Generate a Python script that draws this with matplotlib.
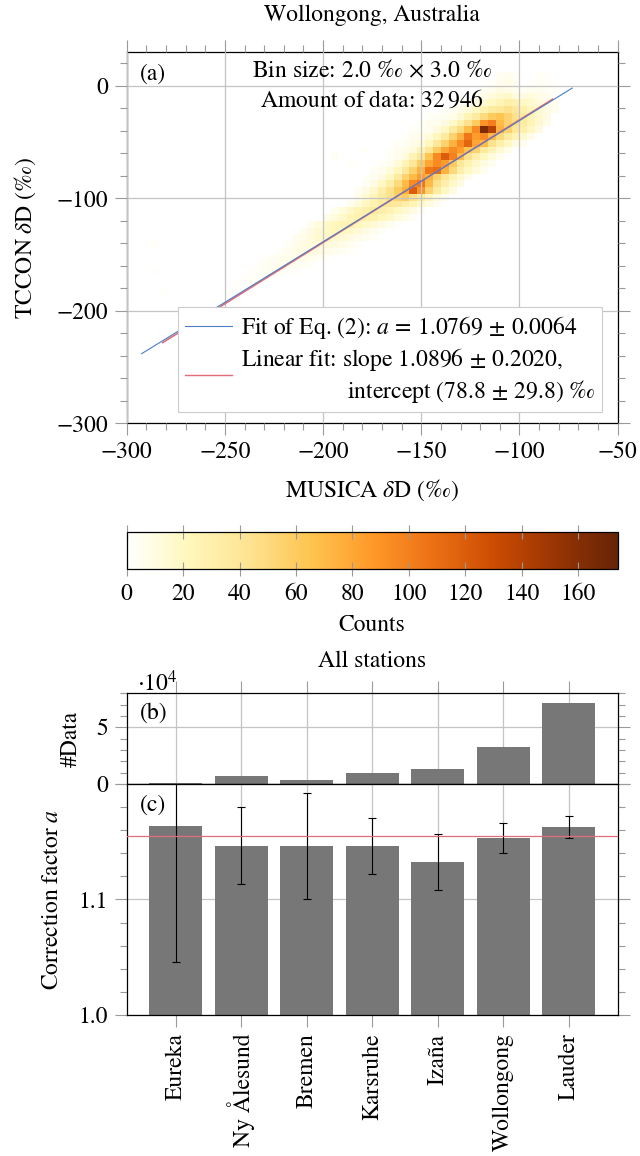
import matplotlib

matplotlib.use("Agg")
import matplotlib.pyplot as plt
import numpy as np
from matplotlib.colors import LinearSegmentedColormap
from matplotlib.ticker import MultipleLocator

plt.rcParams["font.family"] = ["STIXGeneral", "DejaVu Serif"]
plt.rcParams["mathtext.fontset"] = "stix"
plt.rcParams["font.size"] = 17

# ---- panel (a): Wollongong 2-D histogram (4 permil x 6 permil cells) ----
# (y centre, x centre of first cell, counts of consecutive cells along x)
heat_rows = [
    (9, -110, [4, 6, 3, 0, 0, 3, 2]),
    (3, -114, [3, 6, 8, 5, 0, 2, 4, 3, 2]),
    (-3, -118, [4, 6, 10, 8, 6, 4, 5, 6, 4, 3]),
    (-9, -122, [5, 8, 12, 15, 18, 12, 10, 12, 8, 6, 4]),
    (-15, -130, [3, 6, 10, 15, 20, 25, 30, 28, 20, 15, 12, 8, 5]),
    (-21, -138, [3, 4, 8, 12, 20, 28, 35, 40, 45, 38, 30, 22, 15, 10, 6]),
    (-27, -146, [3, 4, 5, 8, 15, 25, 35, 50, 60, 65, 55, 45, 35, 25, 15, 10]),
    (-33, -150, [3, 5, 6, 10, 18, 30, 45, 60, 90, 100, 70, 55, 45, 35, 25, 15, 8]),
    (-39, -154, [3, 4, 6, 10, 20, 35, 50, 70, 95, 165, 140, 75, 55, 40, 30, 20, 10]),
    (-45, -158, [3, 5, 7, 12, 22, 35, 55, 75, 105, 85, 95, 70, 50, 35, 25, 15, 8]),
    (-51, -162, [3, 4, 7, 12, 22, 38, 55, 75, 95, 115, 80, 70, 45, 30, 20, 10, 5]),
    (-57, -166, [3, 5, 7, 12, 25, 40, 60, 80, 95, 85, 65, 55, 35, 25, 15, 8]),
    (-63, -166, [4, 6, 12, 25, 40, 65, 95, 120, 100, 70, 45, 30, 20, 12, 6]),
    (-69, -170, [3, 6, 12, 25, 40, 60, 80, 95, 85, 60, 40, 28, 18, 10, 5]),
    (-75, -174, [4, 6, 12, 22, 38, 55, 75, 105, 110, 75, 50, 30, 20, 12, 6]),
    (-81, -178, [3, 5, 10, 20, 35, 55, 70, 85, 75, 55, 40, 25, 15, 8]),
    (-87, -178, [4, 10, 20, 32, 50, 70, 95, 105, 70, 45, 30, 18, 10]),
    (-93, -182, [4, 10, 18, 30, 45, 60, 75, 120, 90, 55, 35, 20, 10]),
    (-99, -182, [8, 15, 25, 35, 45, 55, 60, 45, 35, 22, 12, 6]),
    (-105, -188, [6, 12, 20, 28, 35, 40, 38, 30, 25, 18, 10, 5]),
    (-111, -194, [6, 12, 18, 25, 30, 35, 30, 25, 20, 15, 10, 5]),
    (-117, -200, [8, 12, 18, 25, 28, 30, 28, 22, 18, 12, 8, 4]),
    (-123, -206, [6, 12, 18, 22, 25, 28, 22, 18, 14, 10, 6, 3]),
    (-129, -210, [6, 10, 15, 20, 22, 20, 18, 14, 10, 6, 4]),
    (-135, -214, [5, 8, 12, 16, 18, 16, 14, 10, 7, 5, 3]),
    (-141, -218, [4, 7, 10, 12, 14, 12, 10, 8, 5, 3]),
    (-147, -224, [3, 5, 8, 10, 11, 10, 8, 6, 4, 3]),
    (-153, -230, [3, 4, 6, 8, 8, 7, 6, 4, 3]),
    (-159, -234, [2, 4, 5, 6, 6, 5, 4, 3]),
    (-165, -238, [2, 3, 4, 5, 4, 3, 2]),
    (-171, -242, [2, 3, 3, 3, 2]),
    (-177, -246, [2, 2, 3, 2]),
    (-183, -250, [2, 2, 2]),
    # isolated faint cells
    (-141, -286, [3]),
    (-165, -286, [2]),
    (-183, -282, [2]),
    (-63, -194, [4]),
    (-69, -186, [3]),
    (-57, -178, [3]),
]

fit_a = 1.0769
fit_a_err = 0.0064
fit_x_range = [-292.4, -73.1]
lin_slope = 1.0896
lin_slope_err = 0.2020
lin_intercept = 78.8
lin_intercept_err = 29.8
lin_x_range = [-281.7, -83.1]

# ---- panels (b) and (c): all stations ----
station_names = ["Eureka", "Ny Ålesund", "Bremen", "Karsruhe", "Izaña", "Wollongong", "Lauder"]
station_ndata = [500, 7060, 3530, 9700, 13200, 32946, 71800]
station_a = [1.1634, 1.1467, 1.1461, 1.1460, 1.1322, 1.1533, 1.1625]
station_a_err = [0.1173, 0.0334, 0.0457, 0.0242, 0.0241, 0.0130, 0.0095]
mean_a = 1.1553

BLUE = "#4a7fc1"
RED = "#e36c7a"
GRID = "#c4c4c4"
TICK = "#9a9a9a"
BAR = "#777777"

cmap = LinearSegmentedColormap.from_list(
    "white_ylorbr",
    ["#ffffff", "#fff7bc", "#fee391", "#fec44f", "#fe9929", "#ec7014", "#cc4c02", "#993404", "#662506"],
)


def style_ticks(ax):
    ax.tick_params(which="both", direction="out", color=TICK, width=0.8)
    ax.tick_params(which="major", length=8.4)
    ax.tick_params(which="minor", length=5.2)
    for spine in ax.spines.values():
        spine.set_linewidth(0.9)


fig = plt.figure(figsize=(6.4, 11.56), dpi=100)

# ---------------- panel (a) ----------------
ax_a = fig.add_axes([0.198, 0.6337, 0.767, 0.3211])
x_edges = np.arange(-296, -71, 4)
y_edges = np.arange(-198, 13, 6)
counts = np.zeros((len(y_edges) - 1, len(x_edges) - 1))
for yc, x0, vals in heat_rows:
    i = int((yc - y_edges[0]) // 6)
    j = int((x0 - x_edges[0]) // 4)
    counts[i, j:j + len(vals)] = vals
mesh = ax_a.pcolormesh(x_edges, y_edges, np.ma.masked_equal(counts, 0), cmap=cmap,
                       vmin=0, vmax=174, zorder=1)

xs = np.array(lin_x_range)
ax_a.plot(xs, lin_slope * xs + lin_intercept, color=RED, lw=1.2, zorder=3)
xs = np.array(fit_x_range)
ax_a.plot(xs, fit_a * (xs + 1000) - 1000, color=BLUE, lw=0.8, zorder=3.1)

ax_a.set_xlim(-300, -50)
ax_a.set_ylim(-300, 30)
ax_a.xaxis.set_major_locator(MultipleLocator(50))
ax_a.xaxis.set_minor_locator(MultipleLocator(10))
ax_a.yaxis.set_major_locator(MultipleLocator(100))
ax_a.yaxis.set_minor_locator(MultipleLocator(20))
style_ticks(ax_a)
ax_a.tick_params(which="both", top=True, right=True)
ax_a.tick_params(axis="x", pad=5)
ax_a.tick_params(axis="y", pad=5)
ax_a.set_axisbelow(False)
ax_a.grid(True, which="major", color=GRID, lw=0.9)

ax_a.set_xlabel("MUSICA $\\delta$D (‰)", va="center")
ax_a.xaxis.set_label_coords(0.5, -0.181)
ax_a.set_ylabel("TCCON $\\delta$D (‰)", va="center")
ax_a.yaxis.set_label_coords(-0.207, 0.5)

ax_a.text(0.027, 0.9415, "(a)", transform=ax_a.transAxes, va="center", zorder=4)
ax_a.text(0.5, 0.948, "Bin size: 2.0 ‰ $\\times$ 3.0 ‰", transform=ax_a.transAxes,
          ha="center", va="center", zorder=4)
ax_a.text(0.5, 0.8715, "Amount of data: $32\\,946$", transform=ax_a.transAxes,
          ha="center", va="center", zorder=4)

handles = [
    plt.Line2D([], [], color=BLUE, lw=0.8),
    plt.Line2D([], [], color=RED, lw=1.0),
]
labels = [
    f"Fit of Eq. (2): $a\\,=\\,{fit_a:.4f}\\,\\pm\\,{fit_a_err:.4f}$",
    f"Linear fit: slope ${lin_slope:.4f}\\,\\pm\\,{lin_slope_err:.4f}$,\n"
    + " " * 18
    + f"intercept $({lin_intercept:.1f}\\,\\pm\\,{lin_intercept_err:.1f})$ ‰",
]
leg = ax_a.legend(handles, labels, loc="lower right", bbox_to_anchor=(0.9687, 0.0318),
                  borderaxespad=0, fancybox=False, framealpha=1, edgecolor="#cccccc",
                  handlelength=2.0, handletextpad=0.35, labelspacing=0.2, borderpad=0.3)
leg.get_frame().set_linewidth(0.8)
leg.set_zorder(5)
for t in leg.get_texts():
    t.set_linespacing(1.25)

fig.text(0.581, 0.987, "Wollongong, Australia", ha="center", va="center")

# ---------------- colour bar ----------------
cax = fig.add_axes([0.198, 0.5075, 0.767, 0.0325])
cbar = fig.colorbar(mesh, cax=cax, orientation="horizontal", ticks=np.arange(0, 161, 20))
cbar.outline.set_linewidth(0.9)
cax.tick_params(which="major", direction="inout", color=TICK, width=0.8, length=10,
                top=True, bottom=True, pad=5)
cax.minorticks_off()
cax.set_xlabel("Counts", va="center")
cax.xaxis.set_label_coords(0.5, -1.48)

# ---------------- panel (b) ----------------
xpos = np.arange(len(station_names))
ax_b = fig.add_axes([0.198, 0.3218, 0.767, 0.0785])
ax_b.bar(xpos, np.array(station_ndata) / 1e4, width=0.81, color=BAR, zorder=2)
ax_b.set_xlim(-0.75, len(station_names) - 0.25)
ax_b.set_ylim(0, 8)
ax_b.set_xticks(xpos)
ax_b.set_yticks([0, 5])
ax_b.yaxis.set_minor_locator(MultipleLocator(1))
style_ticks(ax_b)
ax_b.tick_params(axis="x", which="both", top=True, bottom=False, labelbottom=False)
ax_b.tick_params(axis="y", which="both", right=True, pad=5)
ax_b.set_axisbelow(True)
ax_b.grid(True, which="major", color=GRID, lw=0.9)
ax_b.set_ylabel("#Data", va="center")
ax_b.yaxis.set_label_coords(-0.1126, 0.5)
ax_b.text(0.027, 0.78, "(b)", transform=ax_b.transAxes, va="center")
fig.text(0.2136, 0.409, "$\\cdot 10^4$", ha="left", va="center")
fig.text(0.581, 0.4276, "All stations", ha="center", va="center")

# ---------------- panel (c) ----------------
ax_c = fig.add_axes([0.198, 0.1220, 0.767, 0.1998], sharex=ax_b)
ax_c.bar(xpos, station_a, width=0.81, color=BAR, zorder=2)
ax_c.errorbar(xpos, station_a, yerr=station_a_err, fmt="none", ecolor="black",
              elinewidth=0.8, capsize=3, capthick=0.8, zorder=3)
ax_c.axhline(mean_a, color=RED, lw=0.9, zorder=4)
ax_c.set_ylim(1.0, 1.2)
ax_c.set_yticks([1.0, 1.1, 1.2])
ax_c.set_yticklabels(["1.0", "1.1", ""])
ax_c.yaxis.set_minor_locator(MultipleLocator(0.02))
style_ticks(ax_c)
ax_c.tick_params(axis="x", which="both", top=False, bottom=True, labelbottom=True, pad=5)
ax_c.tick_params(axis="y", which="both", right=True, pad=5)
ax_c.set_xticks(xpos)
ax_c.set_xticklabels(station_names, rotation=90)
ax_c.set_axisbelow(True)
ax_c.grid(True, which="major", color=GRID, lw=0.9)
ax_c.set_ylabel("Correction factor $a$", va="center")
ax_c.yaxis.set_label_coords(-0.152, 0.5)
ax_c.text(0.027, 0.909, "(c)", transform=ax_c.transAxes, va="center")

fig.savefig("out.png", dpi=100)
